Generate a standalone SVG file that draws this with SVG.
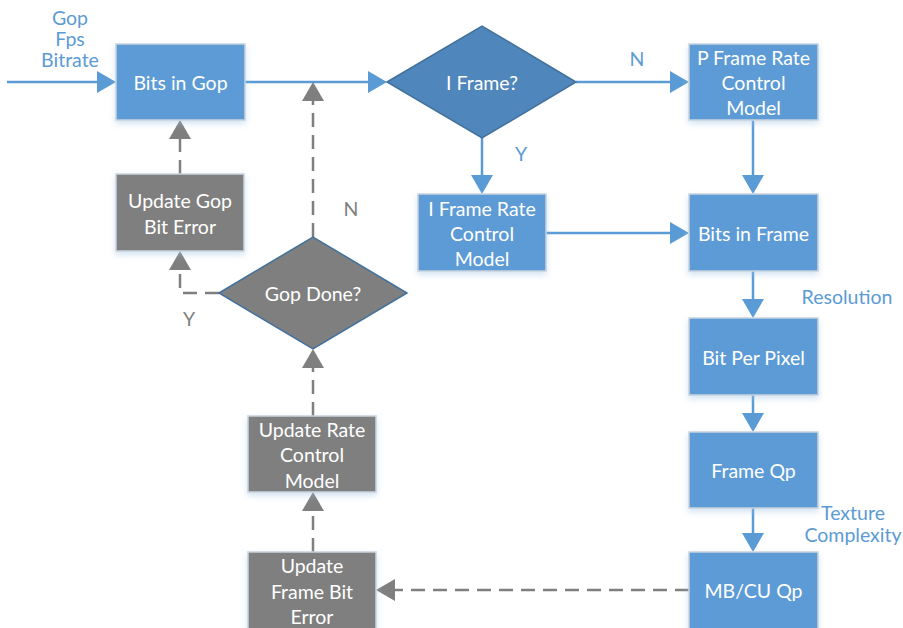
<svg xmlns="http://www.w3.org/2000/svg" width="903" height="628" viewBox="0 0 903 628">
  <defs>
    <filter id="glow" x="-20%" y="-20%" width="140%" height="150%">
      <feDropShadow dx="0" dy="3" stdDeviation="3" flood-color="#9cbfe3" flood-opacity="0.45"/>
    </filter>
  </defs>
  <style>
    text { font-family: Lato, "Open Sans", "Liberation Sans", sans-serif; font-size: 19.5px; text-anchor: middle; dominant-baseline: central; }
    .node text { fill: #ffffff; }
    .blue rect { fill: #5B9BD5; stroke: #C9D3DE; stroke-width: 1.5; filter: url(#glow); }
    .grey rect { fill: #7F7F7F; stroke: #C9D3DE; stroke-width: 1.5; filter: url(#glow); }
    .dec-blue polygon { fill: #4F86BB; stroke: #41719C; stroke-width: 1.5; }
    .dec-grey polygon { fill: #7F7F7F; stroke: #41719C; stroke-width: 1.5; }
    .label { fill: #5B9BD5; }
    .glabel { fill: #7F7F7F; }
    .cb { fill: none; stroke: #5B9BD5; stroke-width: 2.5; }
    .cg { fill: none; stroke: #7F7F7F; stroke-width: 2.5; stroke-dasharray: 14 8; }
    .hb { fill: #5B9BD5; }
    .hg { fill: #7F7F7F; }
  </style>

  <!-- connectors -->
  <g id="connectors">
    <!-- solid blue flow -->
    <line class="cb" x1="7" y1="82" x2="100" y2="82"/>
    <polygon class="hb" points="116,82 97,71 97,93"/>
    <line class="cb" x1="245" y1="82" x2="372" y2="82"/>
    <polygon class="hb" points="387,82 368,71 368,93"/>
    <line class="cb" x1="576" y1="82" x2="674" y2="82"/>
    <polygon class="hb" points="689,82 670,71 670,93"/>
    <line class="cb" x1="482" y1="138" x2="482" y2="180"/>
    <polygon class="hb" points="482,194 471,175 493,175"/>
    <line class="cb" x1="753" y1="120" x2="753" y2="180"/>
    <polygon class="hb" points="753,194 742,175 764,175"/>
    <line class="cb" x1="546" y1="233" x2="674" y2="233"/>
    <polygon class="hb" points="689,233 670,222 670,244"/>
    <line class="cb" x1="753" y1="271" x2="753" y2="304"/>
    <polygon class="hb" points="753,318 742,299 764,299"/>
    <line class="cb" x1="753" y1="395" x2="753" y2="418"/>
    <polygon class="hb" points="753,432 742,413 764,413"/>
    <line class="cb" x1="753" y1="508" x2="753" y2="538"/>
    <polygon class="hb" points="753,552 742,533 764,533"/>

    <!-- dashed grey feedback -->
    <line class="cg" x1="689" y1="590" x2="392" y2="590"/>
    <polygon class="hg" points="376,590 395,579 395,601"/>
    <line class="cg" x1="313" y1="552" x2="313" y2="508"/>
    <polygon class="hg" points="313,492 302,511 324,511"/>
    <line class="cg" x1="313" y1="416" x2="313" y2="365"/>
    <polygon class="hg" points="313,349 302,368 324,368"/>
    <polyline class="cg" points="219,293 180,293 180,268"/>
    <polygon class="hg" points="180,251 169,270 191,270"/>
    <line class="cg" x1="180" y1="174" x2="180" y2="136"/>
    <polygon class="hg" points="180,120 169,139 191,139"/>
    <line class="cg" x1="313" y1="237" x2="313" y2="98"/>
    <polygon class="hg" points="313,82 302,101 324,101"/>
  </g>

  <!-- edge and input labels -->
  <g id="labels">
    <text class="label" x="70" y="17">Gop</text>
    <text class="label" x="70" y="38">Fps</text>
    <text class="label" x="70" y="59">Bitrate</text>
    <text class="label" x="637" y="58">N</text>
    <text class="label" x="521" y="153">Y</text>
    <text class="label" x="847" y="296">Resolution</text>
    <text class="label" x="853" y="512">Texture</text>
    <text class="label" x="853" y="534">Complexity</text>
    <text class="glabel" x="351" y="208">N</text>
    <text class="glabel" x="189" y="318">Y</text>
  </g>

  <g id="bits-in-gop" class="node blue">
    <rect x="116" y="44" width="129" height="76"/>
    <text x="180.5" y="82">Bits in Gop</text>
  </g>

  <g id="i-frame" class="node dec-blue">
    <polygon points="387,82 482,26 576,82 482,138"/>
    <text x="482" y="82">I Frame?</text>
  </g>

  <g id="p-frame-model" class="node blue">
    <rect x="689" y="44" width="129" height="76"/>
    <text x="753.5" y="57">P Frame Rate</text>
    <text x="753.5" y="82">Control</text>
    <text x="753.5" y="107">Model</text>
  </g>

  <g id="i-frame-model" class="node blue">
    <rect x="418" y="194" width="128" height="77"/>
    <text x="482" y="208">I Frame Rate</text>
    <text x="482" y="233">Control</text>
    <text x="482" y="258">Model</text>
  </g>

  <g id="bits-in-frame" class="node blue">
    <rect x="689" y="194" width="129" height="77"/>
    <text x="753.5" y="233">Bits in Frame</text>
  </g>

  <g id="bit-per-pixel" class="node blue">
    <rect x="689" y="318" width="129" height="77"/>
    <text x="753.5" y="357">Bit Per Pixel</text>
  </g>

  <g id="frame-qp" class="node blue">
    <rect x="689" y="432" width="129" height="76"/>
    <text x="753.5" y="470">Frame Qp</text>
  </g>

  <g id="mb-cu-qp" class="node blue">
    <rect x="689" y="552" width="129" height="80"/>
    <text x="753.5" y="590">MB/CU Qp</text>
  </g>

  <g id="update-gop-bit-error" class="node grey">
    <rect x="116" y="174" width="128" height="77"/>
    <text x="180" y="200">Update Gop</text>
    <text x="180" y="226">Bit Error</text>
  </g>

  <g id="gop-done" class="node dec-grey">
    <polygon points="219,293 313,237 407,293 313,349"/>
    <text x="313" y="293">Gop Done?</text>
  </g>

  <g id="update-rate-model" class="node grey">
    <rect x="248" y="416" width="128" height="76"/>
    <text x="312" y="429">Update Rate</text>
    <text x="312" y="454">Control</text>
    <text x="312" y="480">Model</text>
  </g>

  <g id="update-frame-bit-error" class="node grey">
    <rect x="248" y="552" width="128" height="80"/>
    <text x="312" y="565">Update</text>
    <text x="312" y="591">Frame Bit</text>
    <text x="312" y="616">Error</text>
  </g>
</svg>
